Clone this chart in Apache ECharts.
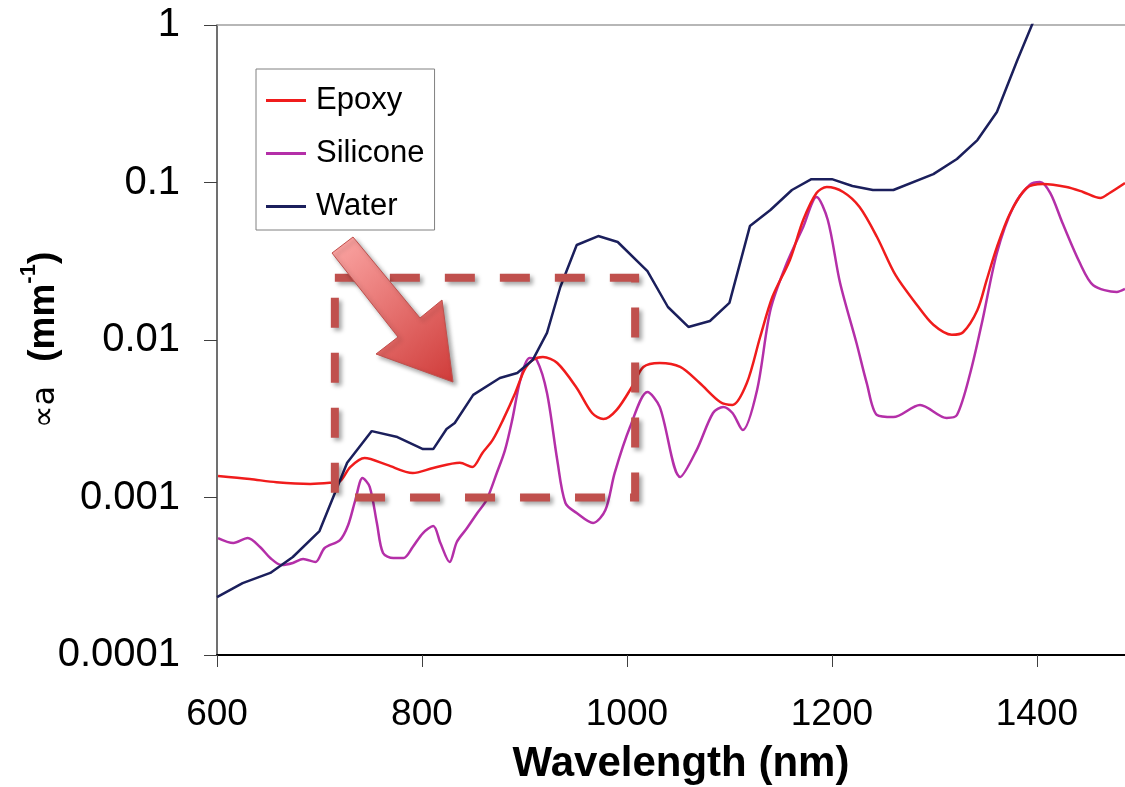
<!DOCTYPE html>
<html>
<head>
<meta charset="utf-8">
<script src="https://cdn.jsdelivr.net/npm/echarts@6/dist/echarts.min.js"></script>
<style>
html,body{margin:0;padding:0;background:#fff;}
#chart{width:1125px;height:787px;}
</style>
</head>
<body>
<div id="chart"></div>
<script>
// ---- data (wavelength nm, absorption mm^-1) ----
var seriesNames = ['Epoxy', 'Silicone', 'Water'];
var xTickValues = [600, 800, 1000, 1200, 1400];
var yTickLabels = ['0.0001', '0.001', '0.01', '0.1', '1'];

var epoxy = [
  [601,1.37e-3],[632,1.31e-3],[658,1.25e-3],[691,1.22e-3],[710,1.24e-3],[720,1.27e-3],
  [730,1.56e-3],[744,1.78e-3],[766,1.61e-3],[791,1.43e-3],[811,1.54e-3],[837,1.66e-3],
  [849,1.56e-3],[859,1.92e-3],[869,2.32e-3],[879,3.10e-3],[891,4.61e-3],[900,6.45e-3],
  [908,7.46e-3],[918,7.80e-3],[932,7.14e-3],[951,4.96e-3],[966,3.44e-3],[977,3.15e-3],
  [990,3.60e-3],[1006,5.18e-3],[1016,6.74e-3],[1032,7.14e-3],[1052,6.74e-3],[1071,5.33e-3],
  [1091,4.04e-3],[1103,3.87e-3],[1117,5.33e-3],[1130,1.045e-2],[1142,1.88e-2],[1159,3.22e-2],
  [1172,5.78e-2],[1185,8.58e-2],[1195,9.36e-2],[1211,8.71e-2],[1227,6.99e-2],[1244,4.51e-2],
  [1262,2.59e-2],[1283,1.67e-2],[1299,1.25e-2],[1317,1.08e-2],[1328,1.12e-2],[1342,1.55e-2],
  [1351,2.40e-2],[1361,3.89e-2],[1374,6.40e-2],[1390,9.23e-2],[1406,9.78e-2],[1429,9.36e-2],
  [1445,8.71e-2],[1462,7.97e-2],[1471,8.58e-2],[1486,9.93e-2]
];

var silicone = [
  [601,5.53e-4],[616,5.14e-4],[630,5.53e-4],[642,4.85e-4],[652,4.13e-4],[663,3.73e-4],
  [674,3.84e-4],[684,4.07e-4],[696,3.89e-4],[705,4.78e-4],[720,5.37e-4],[728,6.69e-4],
  [735,9.64e-4],[742,1.33e-3],[749,1.17e-3],[756,6.89e-4],[762,4.44e-4],[772,4.13e-4],
  [782,4.13e-4],[791,4.85e-4],[801,5.95e-4],[811,6.59e-4],[818,5.14e-4],[827,3.89e-4],
  [834,5.22e-4],[844,6.40e-4],[854,7.97e-4],[863,9.64e-4],[873,1.43e-3],[881,2.0e-3],
  [888,3.10e-3],[896,5.57e-3],[905,7.69e-3],[912,7.46e-3],[922,4.61e-3],[932,1.73e-3],
  [940,9.23e-4],[951,7.97e-4],[967,6.89e-4],[979,8.33e-4],[988,1.43e-3],[1003,2.80e-3],
  [1020,4.68e-3],[1032,3.76e-3],[1052,1.35e-3],[1068,2.0e-3],[1084,3.44e-3],[1094,3.76e-3],
  [1103,3.44e-3],[1113,2.68e-3],[1127,4.82e-3],[1140,1.55e-2],[1156,3.08e-2],[1172,5.22e-2],
  [1185,8.09e-2],[1196,5.78e-2],[1208,2.30e-2],[1224,9.57e-3],[1234,5.33e-3],[1244,3.34e-3],
  [1260,3.24e-3],[1286,3.87e-3],[1312,3.20e-3],[1322,3.34e-3],[1335,6.17e-3],[1347,1.34e-2],
  [1361,3.57e-2],[1377,6.99e-2],[1393,9.64e-2],[1403,1.007e-1],[1413,8.58e-2],[1425,5.53e-2],
  [1442,3.08e-2],[1455,2.23e-2],[1478,2.02e-2],[1486,2.11e-2]
];

var water = [
  [600,2.33e-4],[625,2.86e-4],[652,3.32e-4],[674,4.19e-4],[700,6.12e-4],[727,1.66e-3],
  [751,2.64e-3],[776,2.42e-3],[801,2.03e-3],[811,2.03e-3],[824,2.72e-3],[832,2.97e-3],
  [850,4.48e-3],[876,5.74e-3],[893,6.17e-3],[908,7.46e-3],[922,1.11e-2],[935,2.17e-2],
  [951,4.01e-2],[972,4.57e-2],[991,4.19e-2],[1020,2.74e-2],[1040,1.62e-2],[1060,1.21e-2],
  [1081,1.32e-2],[1100,1.72e-2],[1120,5.29e-2],[1140,6.69e-2],[1161,8.96e-2],[1180,1.05e-1],
  [1200,1.05e-1],[1220,9.5e-2],[1240,8.96e-2],[1260,8.96e-2],[1299,1.13e-1],[1322,1.41e-1],
  [1342,1.86e-1],[1361,2.80e-1],[1381,5.99e-1],[1400,1.19],[1420,2.5]
];

// highlighted region (data coordinates)
var boxCorners = [[715, 0.0248], [1008, 0.001]];

var chart = echarts.init(document.getElementById('chart'));
var FONT = 'Liberation Sans, Arial, sans-serif';

var option = {
  animation: false,
  backgroundColor: '#ffffff',
  grid: { left: 217, top: 25, right: 0, bottom: 132, containLabel: false, outerBoundsMode: 'none' },
  legend: {
    orient: 'vertical',
    left: 256, top: 69,
    padding: [16, 10, 8, 10],
    itemGap: 22,
    itemWidth: 40,
    itemHeight: 3,
    icon: 'rect',
    borderColor: '#808080',
    borderWidth: 1,
    backgroundColor: '#ffffff',
    textStyle: { fontFamily: FONT, fontSize: 31, color: '#000', lineHeight: 30, padding: [0, 0, 0, 5] },
    data: seriesNames
  },
  xAxis: [{
    type: 'value',
    min: 600, max: 1486, interval: 200,
    axisLine: { show: true, lineStyle: { color: '#000', width: 2 } },
    axisTick: { show: true, inside: false, length: 12, lineStyle: { color: '#404040', width: 1 } },
    axisLabel: {
      fontFamily: FONT, fontSize: 37, color: '#000', margin: 41, showMaxLabel: false,
      formatter: function (v) { return xTickValues.indexOf(Math.round(v)) >= 0 ? String(Math.round(v)) : ''; }
    },
    splitLine: { show: false },
    name: 'Wavelength (nm)',
    nameLocation: 'middle',
    nameGap: 88,
    nameMoveOverlap: false,
    nameTextStyle: { fontFamily: FONT, fontSize: 42, fontWeight: 'bold', color: '#000', padding: [0, 0, 0, 20] }
  }, {
    type: 'value', position: 'top', min: 600, max: 1486,
    axisLine: { show: true, lineStyle: { color: '#a0a0a0', width: 1.5 } },
    axisTick: { show: false }, axisLabel: { show: false }, splitLine: { show: false }
  }],
  yAxis: {
    type: 'log', logBase: 10, min: 0.0001, max: 1,
    axisLine: { show: true, lineStyle: { color: '#404040', width: 1.5 } },
    axisTick: { show: true, inside: false, length: 13, lineStyle: { color: '#404040', width: 1 } },
    axisLabel: {
      fontFamily: FONT, fontSize: 40, color: '#000', margin: 37,
      formatter: function (v) { var i = Math.round(Math.log10(v)) + 4; return yTickLabels[i] || ''; }
    },
    minorTick: { show: false },
    splitLine: { show: false },
    name: '{a|\u221Da}{gap| }{b|(mm}{sup|-1}{b|)}',
    nameLocation: 'middle',
    nameGap: 155,
    nameRotate: 90,
    nameMoveOverlap: false,
    nameTextStyle: {
      lineHeight: 44,
      rich: {
        a: { fontFamily: 'DejaVu Sans, sans-serif', fontSize: 32, color: '#000', verticalAlign: 'bottom', lineHeight: 44 },
        gap: { fontFamily: FONT, fontSize: 30, width: 24, verticalAlign: 'bottom', lineHeight: 44 },
        b: { fontFamily: FONT, fontSize: 37, fontWeight: 'bold', color: '#000', verticalAlign: 'bottom', lineHeight: 44 },
        sup: { fontFamily: FONT, fontSize: 22, fontWeight: 'bold', color: '#000', verticalAlign: 'top', lineHeight: 24 }
      }
    }
  },
  series: [
    { name: 'Epoxy', type: 'line', data: epoxy, smooth: 0.3, showSymbol: false, symbol: 'none',
      lineStyle: { color: '#f01c1c', width: 2.5 }, itemStyle: { color: '#f01c1c' }, z: 3 },
    { name: 'Silicone', type: 'line', data: silicone, smooth: 0.3, showSymbol: false, symbol: 'none',
      lineStyle: { color: '#b42fa8', width: 2.5 }, itemStyle: { color: '#b42fa8' }, z: 2 },
    { name: 'Water', type: 'line', data: water, smooth: false, showSymbol: false, symbol: 'none',
      lineStyle: { color: '#1b1f5c', width: 2.5 }, itemStyle: { color: '#1b1f5c' }, z: 4 }
  ]
};
chart.setOption(option);

// annotations: dashed box (from data coords) and arrow
var p1 = chart.convertToPixel({ gridIndex: 0 }, boxCorners[0]);
var p2 = chart.convertToPixel({ gridIndex: 0 }, boxCorners[1]);
var shadow = { shadowBlur: 4, shadowOffsetX: 3, shadowOffsetY: 3, shadowColor: 'rgba(0,0,0,0.35)' };
chart.setOption({
  graphic: [
    {
      type: 'rect', z: 100,
      shape: { x: p1[0], y: p1[1], width: p2[0] - p1[0], height: p2[1] - p1[1] },
      style: Object.assign({ fill: 'none', stroke: '#c0504d', lineWidth: 8, lineDash: [30, 25], lineCap: 'butt' }, shadow)
    },
    {
      type: 'polygon', z: 101,
      shape: { points: [[332, 253], [353, 237], [420, 318], [442, 300], [453, 382], [376, 354], [398, 337]] },
      style: Object.assign({
        fill: new echarts.graphic.LinearGradient(0, 0, 1, 1, [
          { offset: 0, color: '#fca8a6' },
          { offset: 1, color: '#cf3b39' }
        ]),
        stroke: '#c0504d', lineWidth: 1
      }, shadow)
    }
  ]
});
</script>
</body>
</html>
